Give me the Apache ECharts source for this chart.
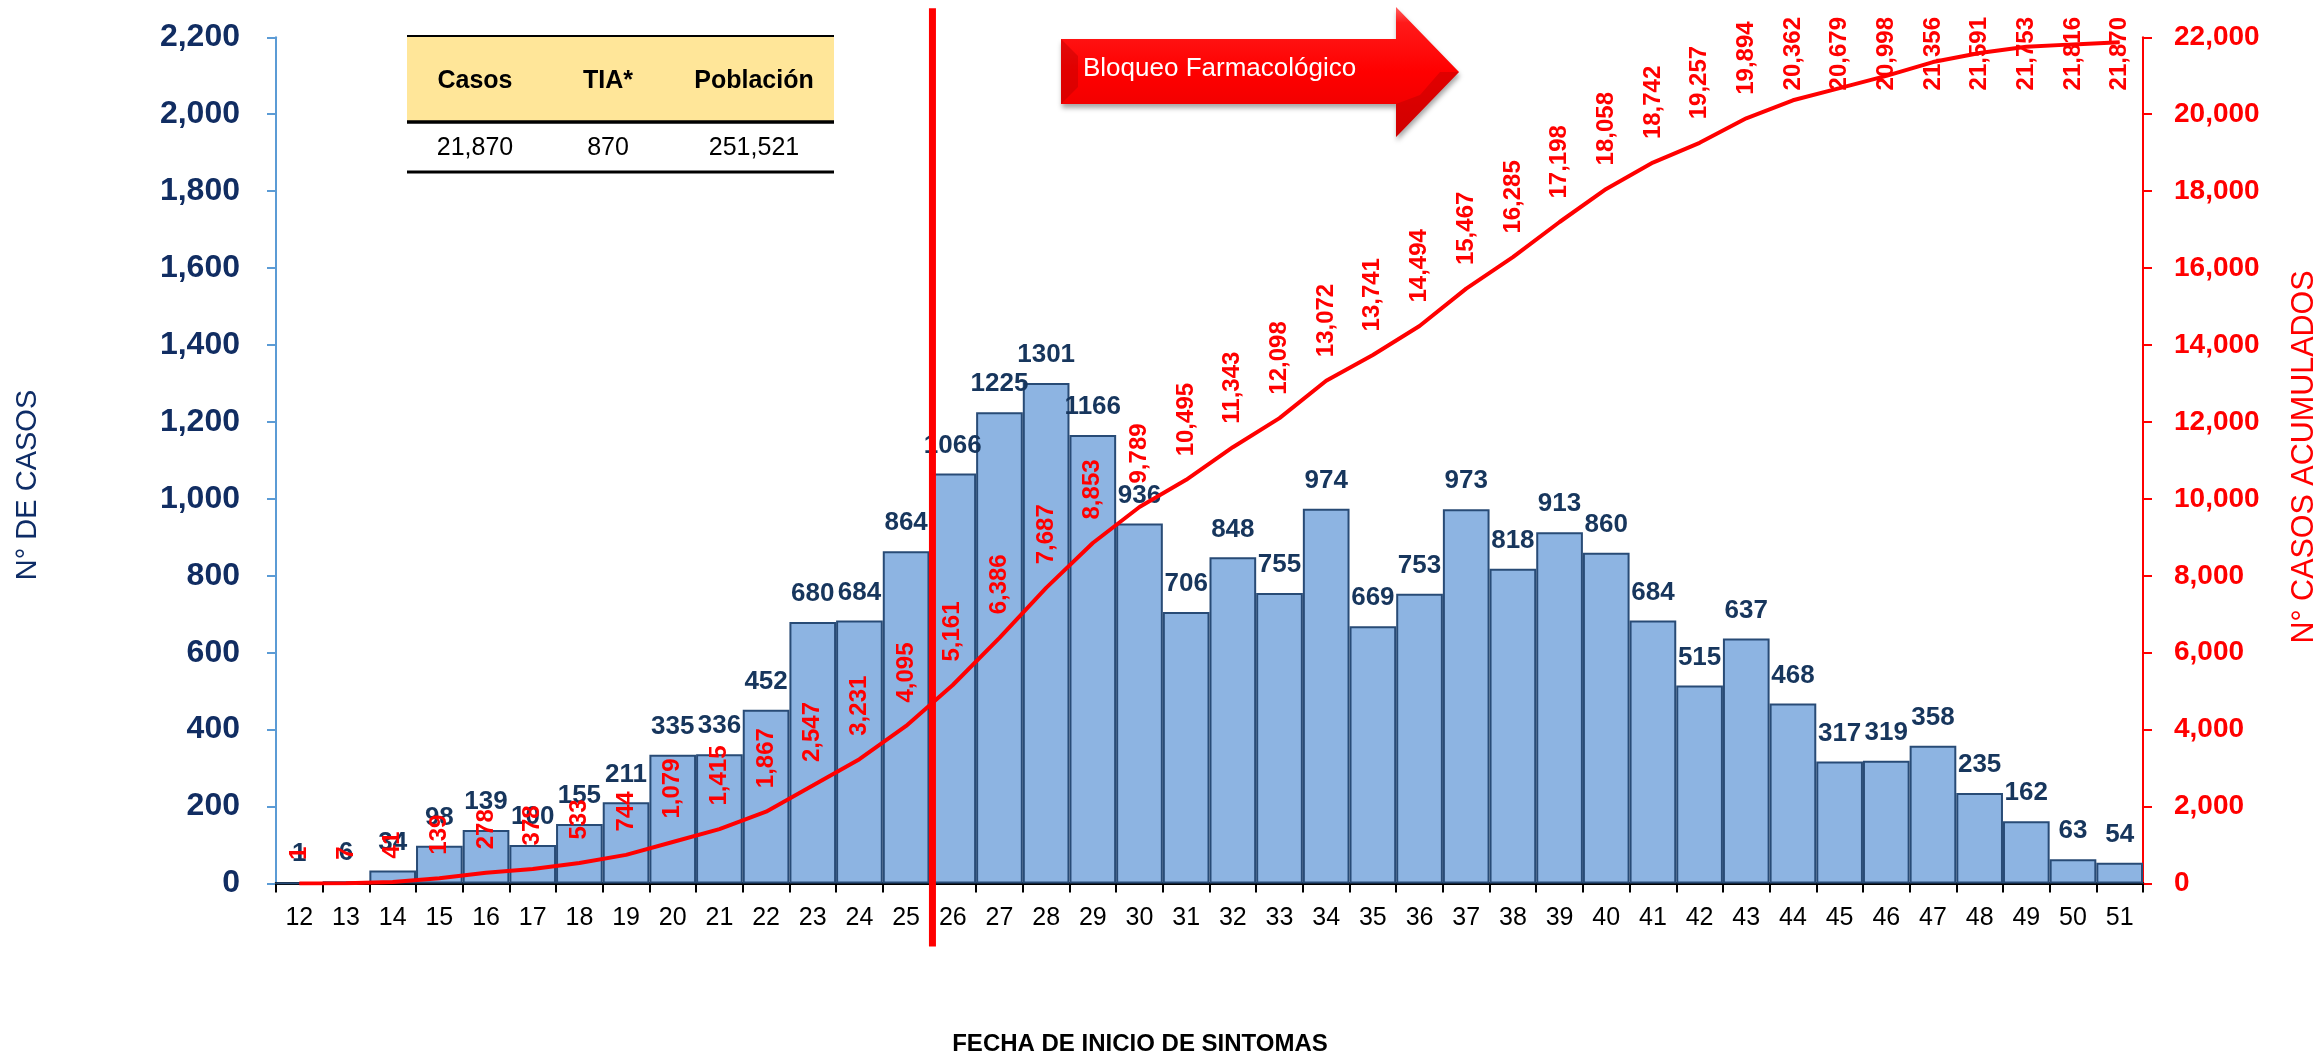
<!DOCTYPE html>
<html>
<head>
<meta charset="utf-8">
<script src="https://cdn.jsdelivr.net/npm/echarts@6/dist/echarts.min.js"></script>
<style>
html,body{margin:0;padding:0;background:#ffffff;}
#chart{width:2321px;height:1054px;}
</style>
</head>
<body>
<div id="chart"></div>
<script>
// ---- data ----
const weeks = ['12','13','14','15','16','17','18','19','20','21','22','23','24','25','26','27','28','29','30','31','32','33','34','35','36','37','38','39','40','41','42','43','44','45','46','47','48','49','50','51'];
const casos = [1,6,34,98,139,100,155,211,335,336,452,680,684,864,1066,1225,1301,1166,936,706,848,755,974,669,753,973,818,913,860,684,515,637,468,317,319,358,235,162,63,54];
const acumulados = [1,7,41,139,278,378,533,744,1079,1415,1867,2547,3231,4095,5161,6386,7687,8853,9789,10495,11343,12098,13072,13741,14494,15467,16285,17198,18058,18742,19257,19894,20362,20679,20998,21356,21591,21753,21816,21870];
const leftAxis = {min: 0, max: 2200, interval: 200};
const rightAxis = {min: 0, max: 22000, interval: 2000};
const blockStartWeek = '26';
const blockLabel = 'Bloqueo Farmacológico';
const tableHeader = ['Casos', 'TIA*', 'Población'];
const tableValues = ['21,870', '870', '251,521'];
const leftTitle = 'N° DE CASOS';
const rightTitle = 'N° CASOS ACUMULADOS';
const xTitle = 'FECHA DE INICIO DE SINTOMAS';

// ---- styles ----
const FONT = "'Liberation Sans', Arial, sans-serif";
const NAVY = '#112D62';
const RED = '#FF0000';
const LINE_LABEL_GAP = 23;
const LINE_LABEL_TOP = 17;
const fmt = v => Number(v).toLocaleString('en-US');

const chart = echarts.init(document.getElementById('chart'), null, {renderer: 'canvas'});

const tableCols = [475, 608, 754];
const graphics = [];
// table
graphics.push({type: 'rect', shape: {x: 407, y: 36, width: 427, height: 86}, style: {fill: '#FFE699'}, z: 1});
graphics.push({type: 'line', shape: {x1: 407, y1: 36, x2: 834, y2: 36}, style: {stroke: '#000', lineWidth: 2}, z: 2});
graphics.push({type: 'line', shape: {x1: 407, y1: 122, x2: 834, y2: 122}, style: {stroke: '#000', lineWidth: 3.5}, z: 2});
graphics.push({type: 'line', shape: {x1: 407, y1: 172, x2: 834, y2: 172}, style: {stroke: '#000', lineWidth: 3}, z: 2});
tableHeader.forEach((t, i) => graphics.push({type: 'text', x: tableCols[i], y: 81, z: 3,
  style: {text: t, fill: '#000', font: "bold 25px " + FONT, textAlign: 'center', textVerticalAlign: 'middle'}}));
tableValues.forEach((t, i) => graphics.push({type: 'text', x: tableCols[i], y: 148, z: 3,
  style: {text: t, fill: '#000', font: "25px " + FONT, textAlign: 'center', textVerticalAlign: 'middle'}}));
// arrow
graphics.push({type: 'polygon', z: 5,
  shape: {points: [[1061,39],[1396,39],[1396,7],[1459,72],[1396,137],[1396,104],[1061,104]]},
  style: {
    fill: new echarts.graphic.LinearGradient(0, 0, 0, 1, [
      {offset: 0, color: '#FF6060'}, {offset: 0.12, color: '#FF1A1A'}, {offset: 0.5, color: '#FF0000'}, {offset: 1, color: '#E60000'}]),
    shadowColor: 'rgba(0,0,0,0.35)', shadowBlur: 5, shadowOffsetY: 4, shadowOffsetX: 1
  }});
graphics.push({type: 'polygon', z: 6, shape: {points: [[1061,39],[1078,56],[1078,87],[1061,104]]}, style: {fill: 'rgba(170,0,0,0.35)'}});
graphics.push({type: 'polygon', z: 6, shape: {points: [[1396,104],[1420,95],[1440,72],[1459,72],[1396,137]]}, style: {fill: 'rgba(170,0,0,0.35)'}});
graphics.push({type: 'text', x: 1083, y: 69, z: 7,
  style: {text: blockLabel, fill: '#FFFFFF', font: "26px " + FONT, textAlign: 'left', textVerticalAlign: 'middle'}});
// axis titles
graphics.push({type: 'text', x: 28, y: 485, rotation: Math.PI / 2, z: 3,
  style: {text: leftTitle, fill: '#0E2C66', font: "29px " + FONT, textAlign: 'center', textVerticalAlign: 'middle'}});
graphics.push({type: 'text', x: 2305, y: 457, rotation: Math.PI / 2, z: 3,
  style: {text: rightTitle, fill: RED, font: "30.5px " + FONT, textAlign: 'center', textVerticalAlign: 'middle'}});
graphics.push({type: 'text', x: 1140, y: 1044, z: 3,
  style: {text: xTitle, fill: '#000', font: "bold 24px " + FONT, textAlign: 'center', textVerticalAlign: 'middle'}});

const option = {
  backgroundColor: '#ffffff',
  animation: false,
  textStyle: {fontFamily: FONT},
  grid: {left: 276, right: 178, top: 37.3, bottom: 170.5, containLabel: false, outerBoundsMode: 'none'},
  xAxis: {
    type: 'category',
    data: weeks,
    boundaryGap: true,
    axisLine: {show: true, lineStyle: {color: '#000', width: 3}},
    axisTick: {show: true, alignWithLabel: false, length: 9, lineStyle: {color: '#000', width: 2}},
    axisLabel: {color: '#000', fontSize: 25, fontFamily: FONT, margin: 22, interval: 0},
    splitLine: {show: false}
  },
  yAxis: [
    {
      type: 'value', position: 'left', min: leftAxis.min, max: leftAxis.max, interval: leftAxis.interval,
      axisLine: {show: true, lineStyle: {color: '#5B9BD5', width: 2}},
      axisTick: {show: true, inside: false, length: 9, lineStyle: {color: '#5B9BD5', width: 2}},
      axisLabel: {color: NAVY, fontSize: 32, fontWeight: 'bold', fontFamily: FONT, margin: 36, formatter: fmt},
      splitLine: {show: false}
    },
    {
      type: 'value', position: 'right', min: rightAxis.min, max: rightAxis.max, interval: rightAxis.interval,
      axisLine: {show: true, lineStyle: {color: RED, width: 2}},
      axisTick: {show: true, inside: false, length: 9, lineStyle: {color: RED, width: 2}},
      axisLabel: {color: RED, fontSize: 28, fontWeight: 'bold', fontFamily: FONT, margin: 31, formatter: fmt},
      splitLine: {show: false}
    }
  ],
  graphic: {elements: graphics},
  series: [
    {
      name: 'Casos', type: 'bar', data: casos, xAxisIndex: 0, yAxisIndex: 0,
      barCategoryGap: '0%', z: 2,
      itemStyle: {color: '#8DB4E2', borderColor: '#284B76', borderWidth: 2},
      label: {show: true, position: 'top', distance: 15, color: '#17365D', fontSize: 26, fontWeight: 'bold', fontFamily: FONT}
    },
    {
      name: 'Acumulados', type: 'line', data: acumulados, xAxisIndex: 0, yAxisIndex: 1,
      symbol: 'circle', symbolSize: 1, showSymbol: true, smooth: false, z: 3,
      lineStyle: {color: RED, width: 4},
      itemStyle: {color: RED},
      label: {show: true, position: 'top', distance: LINE_LABEL_GAP, rotate: 90, align: 'left', verticalAlign: 'middle',
        color: RED, fontSize: 24, fontWeight: 'bold', fontFamily: FONT,
        formatter: p => fmt(p.value)},
      labelLayout: function (p) {
        const r = p.labelRect;
        const cy = p.rect.y + p.rect.height / 2;
        const len = Math.max(r.width, r.height);
        const anchor = cy - LINE_LABEL_GAP;
        if (anchor - len < LINE_LABEL_TOP) {
          return {y: LINE_LABEL_TOP + len};
        }
        return {};
      }
    },
    {
      name: 'Bloqueo', type: 'custom', xAxisIndex: 0, yAxisIndex: 0, z: 10, silent: true,
      data: [[blockStartWeek, 0]],
      renderItem: function (params, api) {
        const base = api.coord([api.value(0), leftAxis.min]);
        const top = api.coord([api.value(0), leftAxis.max]);
        const band = api.size([1, 0])[0];
        const x = base[0] - band / 2 + 3;
        return {type: 'line', shape: {x1: x, y1: top[1] - 29, x2: x, y2: base[1] + 63},
          style: {stroke: RED, lineWidth: 7}};
      }
    }
  ]
};
chart.setOption(option);
</script>
</body>
</html>
